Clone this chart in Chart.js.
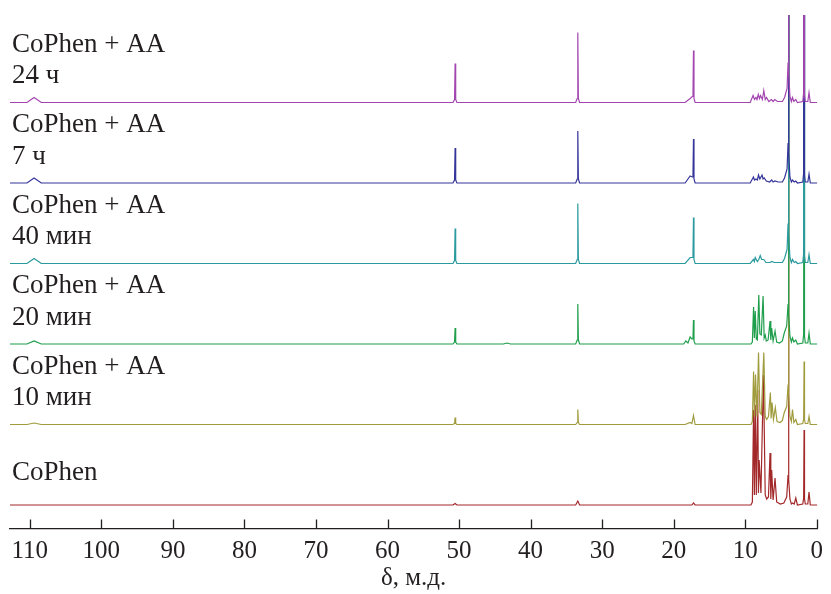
<!DOCTYPE html>
<html>
<head>
<meta charset="utf-8">
<script src="https://cdn.jsdelivr.net/npm/chart.js@4.4.1/dist/chart.umd.min.js"></script>
<style>
    html, body { margin: 0; padding: 0; background: #fff; }
    #wrap { width: 831px; height: 594px; }
</style>
</head>
<body>
<div id="wrap"><canvas id="nmr" width="831" height="594"></canvas></div>
<script>
// chemical shift ticks, ppm
const xTicks = [110, 100, 90, 80, 70, 60, 50, 40, 30, 20, 10, 0];

const seriesLabels = [
    ["CoPhen + AA", "24 ч"],
    ["CoPhen + AA", "7 ч"],
    ["CoPhen + AA", "40 мин"],
    ["CoPhen + AA", "20 мин"],
    ["CoPhen + AA", "10 мин"],
    ["CoPhen"],
];
const colors = ["#a346b0", "#34349a", "#2a9a9e", "#1f9e4c", "#a09c3e", "#a3282a"];
// vertical stacking offset of each spectrum
const offsets = [402.5, 322, 241.5, 161, 80.5, 0];

// [ppm, intensity]
const spec24h = [
    [112.8, 0], [110.4, 0], [109.4, 5], [108.4, 0],
    [50.85, 0], [50.63, 3], [50.55, 39], [50.47, 3], [50.3, 0],
    [33.7, 0], [33.48, 4], [33.4, 70], [33.32, 4], [33.15, 0],
    [18.4, 0], [17.7, 4], [17.4, 6], [17.3, 8], [17.23, 52], [17.16, 4], [17.0, 0],
    [9.3, 0], [8.9, 7], [8.7, 3], [8.5, 5], [8.35, 3], [8.17, 8], [8.0, 4], [7.85, 7], [7.6, 3], [7.4, 12],
    [7.2, 3], [7.02, 5], [6.7, 1], [6.33, 3], [6.1, 1], [5.86, 3], [5.5, 1], [4.8, 1], [4.5, 5], [4.15, 14],
    [4.01, 40], [3.95, 700], [3.89, 30], [3.75, 6], [3.55, 1], [3.39, 5], [3.2, 1], [2.93, 3], [2.7, 0],
    [1.95, 1], [1.83, 10], [1.77, 700], [1.71, 8], [1.6, 1], [1.25, 1], [1.08, 10], [0.9, 0], [-0.1, 0],
];
const spec7h = [
    [112.8, 0], [110.4, 0], [109.4, 5], [108.4, 0],
    [50.85, 0], [50.63, 3], [50.55, 35], [50.47, 3], [50.3, 0],
    [33.7, 0], [33.48, 4], [33.4, 52], [33.32, 4], [33.15, 0],
    [18.4, 0], [17.7, 7], [17.4, 6], [17.3, 8], [17.23, 44], [17.16, 4], [17.0, 0],
    [9.3, 0], [8.85, 6], [8.7, 3], [8.5, 4], [8.3, 3], [8.14, 8], [7.95, 4], [7.65, 8], [7.5, 4], [7.35, 5],
    [7.05, 2], [6.6, 1], [6.3, 3], [6.1, 1], [5.85, 2], [5.4, 1], [4.8, 1], [4.5, 5], [4.15, 14],
    [4.01, 40], [3.95, 700], [3.89, 30], [3.75, 6], [3.55, 1], [3.39, 3], [3.15, 1], [2.93, 2], [2.7, 0],
    [1.95, 1], [1.83, 10], [1.77, 700], [1.71, 8], [1.6, 1], [1.25, 1], [1.08, 9], [0.9, 0], [-0.1, 0],
];
const spec40m = [
    [112.8, 0], [110.4, 0], [109.4, 5], [108.4, 0],
    [50.85, 0], [50.63, 3], [50.55, 35], [50.47, 3], [50.3, 0],
    [33.7, 0], [33.48, 4], [33.4, 60], [33.32, 4], [33.15, 0],
    [18.4, 0], [17.7, 6], [17.4, 6], [17.3, 8], [17.23, 46], [17.16, 4], [17.0, 0],
    [9.3, 0], [8.85, 4], [8.72, 2], [8.6, 6], [8.3, 2], [8.1, 4], [7.9, 8], [7.7, 4], [7.4, 4],
    [7.1, 1], [6.5, 1], [6.3, 2], [5.9, 1], [4.8, 1], [4.5, 5], [4.15, 14],
    [4.01, 40], [3.95, 700], [3.89, 30], [3.75, 6], [3.55, 1], [3.39, 4], [3.15, 1], [2.93, 2], [2.7, 0],
    [1.95, 1], [1.83, 10], [1.77, 700], [1.71, 8], [1.6, 1], [1.25, 1], [1.08, 9], [0.9, 0], [-0.1, 0],
];
const spec20m = [
    [112.8, 0], [110.4, 0], [109.4, 3], [108.4, 0],
    [50.85, 0], [50.63, 2], [50.55, 16], [50.47, 2], [50.3, 0],
    [43.8, 0], [43.3, 1], [42.8, 0],
    [33.7, 0], [33.48, 4], [33.4, 40], [33.32, 4], [33.15, 0],
    [18.6, 0], [18.3, 3], [18.0, 1], [17.7, 7], [17.45, 5], [17.3, 5], [17.23, 24], [17.16, 3], [17.0, 0],
    [9.2, 0], [9.0, 2], [8.83, 37], [8.72, 6], [8.6, 33], [8.45, 5], [8.3, 4], [8.1, 49], [7.95, 10], [7.75, 9],
    [7.5, 48], [7.35, 6], [7.2, 9], [7.05, 3], [6.8, 4], [6.53, 23], [6.42, 4], [6.3, 16], [6.1, 3], [5.83, 13],
    [5.6, 2], [5.2, 1], [4.8, 3], [4.54, 11], [4.2, 18],
    [4.01, 40], [3.95, 700], [3.89, 30], [3.75, 8], [3.55, 2], [3.39, 6], [3.2, 2], [2.93, 4], [2.7, 0],
    [1.95, 1], [1.83, 10], [1.77, 700], [1.71, 8], [1.6, 1], [1.25, 1], [1.08, 11], [0.9, 0], [-0.1, 0],
];
const spec10m = [
    [112.8, 0], [110.4, 0], [109.4, 1.5], [108.4, 0],
    [50.85, 0], [50.63, 1], [50.55, 7], [50.47, 1], [50.3, 0],
    [33.7, 0], [33.48, 2], [33.4, 15], [33.32, 2], [33.15, 0],
    [18.4, 0], [17.7, 2], [17.45, 1], [17.23, 9], [17.0, 0],
    [9.2, 0], [9.0, 3], [8.83, 53], [8.7, 8], [8.56, 50], [8.35, 8], [8.14, 72], [7.95, 12], [7.75, 10],
    [7.4, 72], [7.2, 8], [7.0, 5], [6.75, 8], [6.48, 32], [6.38, 6], [6.25, 22], [6.05, 5], [5.79, 17],
    [5.55, 3], [5.1, 2], [4.8, 4], [4.54, 12], [4.2, 18],
    [4.01, 40], [3.95, 700], [3.89, 30], [3.75, 8], [3.55, 3], [3.39, 15], [3.2, 2], [2.93, 5], [2.7, 0],
    [1.95, 1], [1.83, 6], [1.77, 63], [1.71, 5], [1.6, 1], [1.25, 1], [1.08, 8], [0.9, 0], [-0.1, 0],
];
const specCoPhen = [
    [112.8, 0],
    [50.85, 0], [50.55, 1.5], [50.3, 0],
    [33.7, 0], [33.4, 4], [33.15, 0],
    [17.45, 0], [17.23, 2], [17.0, 0],
    [9.2, 0], [9.0, 3], [8.83, 95], [8.72, 10], [8.6, 100], [8.45, 10], [8.25, 115], [8.15, 12], [8.05, 45],
    [7.8, 12], [7.45, 130], [7.2, 10], [7.0, 6], [6.75, 8], [6.53, 52], [6.42, 6], [6.3, 35], [6.1, 5],
    [5.83, 27], [5.6, 3], [5.1, 1], [4.6, 2], [4.2, 8],
    [4.01, 30], [3.95, 700], [3.89, 25], [3.75, 6], [3.55, 1], [3.39, 2], [3.15, 1], [2.93, 7], [2.7, 0],
    [1.95, 1], [1.83, 7], [1.77, 75], [1.71, 6], [1.6, 1], [1.25, 1], [1.08, 13], [0.9, 0], [-0.1, 0],
];
const spectra = [spec24h, spec7h, spec40m, spec20m, spec10m, specCoPhen];

const ink = "#231f20";
const serif = '"Liberation Serif", "Times New Roman", serif';

const sideLabels = {
    id: "sideLabels",
    afterDraw(chart) {
        const ctx = chart.ctx;
        const xs = chart.scales.x;
        const ys = chart.scales.y;
        ctx.save();
        // inward tick marks
        ctx.strokeStyle = ink;
        ctx.lineWidth = 1.3;
        xs.ticks.forEach((t) => {
            const px = Math.round(xs.getPixelForValue(t.value)) + 0.5;
            ctx.beginPath();
            ctx.moveTo(px, xs.top);
            ctx.lineTo(px, xs.top - 9);
            ctx.stroke();
        });
        // spectrum names
        ctx.fillStyle = ink;
        ctx.font = "27px " + serif;
        ctx.textAlign = "left";
        ctx.textBaseline = "alphabetic";
        seriesLabels.forEach((lines, i) => {
            const base = ys.getPixelForValue(offsets[i]);
            if (lines.length === 2) {
                ctx.fillText(lines[0], 12, base - 51);
                ctx.fillText(lines[1], 12, base - 19.5);
            } else {
                ctx.fillText(lines[0], 12, base - 25);
            }
        });
        ctx.restore();
    },
};

new Chart(document.getElementById("nmr"), {
    type: "line",
    data: {
        datasets: spectra.map((spec, i) => ({
            label: seriesLabels[i].join(" "),
            data: spec.map(([ppm, v]) => ({ x: ppm, y: v + offsets[i] })),
            borderColor: colors[i],
            borderWidth: 1.2,
            pointRadius: 0,
            tension: 0,
            fill: false,
        })),
    },
    options: {
        responsive: false,
        animation: false,
        layout: { padding: { left: 10, right: 6, top: 15, bottom: 0 } },
        plugins: {
            legend: { display: false },
            tooltip: { enabled: false },
        },
        scales: {
            x: {
                type: "linear",
                reverse: true,
                min: -0.07,
                max: 112.77,
                afterBuildTicks: (scale) => {
                    scale.ticks = xTicks.map((v) => ({ value: v }));
                },
                afterFit: (scale) => {
                    scale.height = 65.5;
                },
                border: { display: true, color: ink, width: 1.3 },
                grid: { drawOnChartArea: false, drawTicks: false },
                ticks: {
                    color: ink,
                    padding: 8,
                    maxRotation: 0,
                    font: { family: serif, size: 25 },
                },
                title: {
                    display: true,
                    text: "δ, м.д.",
                    color: ink,
                    font: { family: serif, size: 25 },
                    padding: { top: 0, bottom: 1 },
                },
            },
            y: {
                display: false,
                min: -23.5,
                max: 490,
            },
        },
    },
    plugins: [sideLabels],
});
</script>
</body>
</html>
